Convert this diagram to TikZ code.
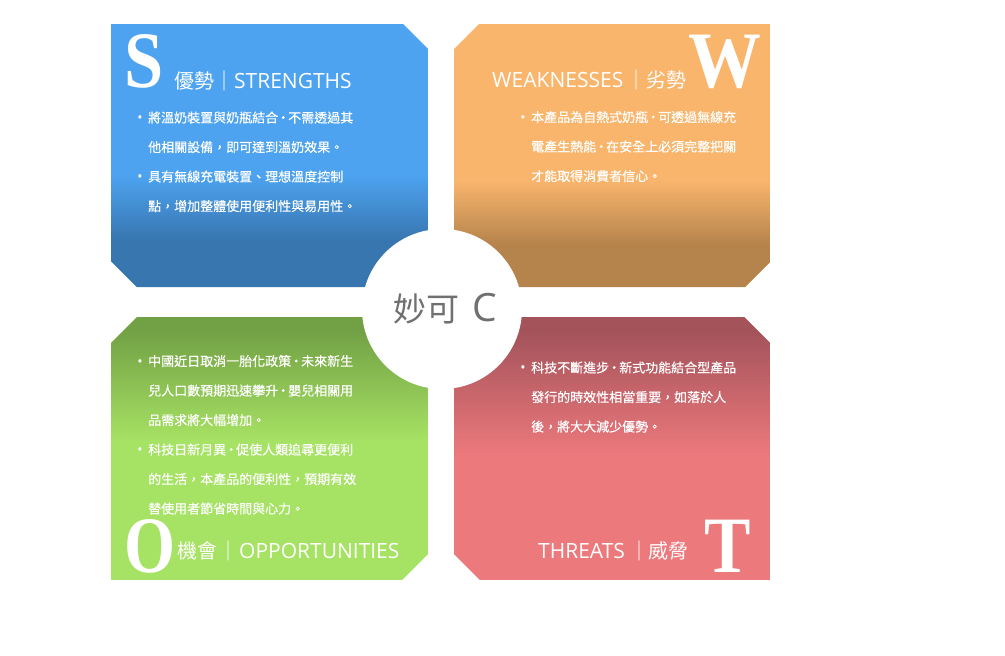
\documentclass[tikz,border=0pt]{standalone}
\usepackage{fontspec}
\usepackage{graphicx}
\newfontfamily\cjk{Noto Sans CJK TC}
\newfontfamily\cjkbody{Noto Sans CJK TC}[FakeBold=0.4]
\newfontfamily\lat{Open Sans}
\newfontfamily\bigserif{Liberation Serif}
\definecolor{Sl}{HTML}{4DA3F0}
\definecolor{Sd}{HTML}{3876B0}
\definecolor{Wl}{HTML}{F9B56C}
\definecolor{Wd}{HTML}{B5834C}
\definecolor{Od}{HTML}{72A045}
\definecolor{Ol}{HTML}{A6E263}
\definecolor{Td}{HTML}{A4535B}
\definecolor{Tl}{HTML}{EC797C}
\definecolor{ctext}{HTML}{707070}
\newcommand\mdot{\makebox[10pt]{·}}
\tikzset{
  body/.style={anchor=base west, inner sep=0, text=white, font=\cjkbody\fontsize{13}{13}\selectfont},
  bul/.style={anchor=base, inner sep=0, text=white, font=\lat\fontsize{14}{14}\selectfont},
  hcjk/.style={anchor=base west, inner sep=0, text=white, font=\cjk\fontsize{20}{20}\selectfont},
  hbar/.style={anchor=base, inner sep=0, text=white, font=\cjk\fontsize{20}{20}\selectfont},
  hlat/.style={anchor=base west, inner sep=0, text=white, font=\lat\fontsize{21}{21}\selectfont},
  bigl/.style={anchor=base west, inner sep=0, text=white, font=\bigserif\bfseries\fontsize{80}{80}\selectfont},
}
\begin{document}
\begin{tikzpicture}[x=1pt,y=-1pt]
\useasboundingbox (0,0) rectangle (1005,656);
% S box
\begin{scope}
\clip (111,24) -- (403,24) -- (428,49) -- (428,287) -- (137,287) -- (111,261) -- cycle;
\fill[Sl] (111,24) rectangle (428,287);
\shade[top color=Sl, bottom color=Sd] (111,175) rectangle (428,240);
\fill[Sd] (111,240) rectangle (428,288);
\end{scope}
% W box
\begin{scope}
\clip (479,24) -- (770,24) -- (770,262) -- (745,287) -- (454,287) -- (454,49) -- cycle;
\fill[Wl] (454,24) rectangle (770,287);
\shade[top color=Wl, bottom color=Wd] (454,180) rectangle (770,245);
\fill[Wd] (454,245) rectangle (770,288);
\end{scope}
% O box
\begin{scope}
\clip (137,317) -- (428,317) -- (428,554) -- (402,580) -- (111,580) -- (111,343) -- cycle;
\fill[Ol] (111,317) rectangle (428,580);
\fill[Od] (111,316) rectangle (428,330);
\shade[top color=Od, bottom color=Ol] (111,330) rectangle (428,440);
\end{scope}
% T box
\begin{scope}
\clip (454,317) -- (744,317) -- (770,343) -- (770,580) -- (480,580) -- (454,554) -- cycle;
\fill[Tl] (454,317) rectangle (770,580);
\fill[Td] (454,316) rectangle (770,332);
\shade[top color=Td, bottom color=Tl] (454,332) rectangle (770,455);
\end{scope}
% centre circle
\node[circle, fill=white, minimum size=160pt, inner sep=0] (c) at (442,309) {};
\node[inner sep=0, text=ctext] (ct) at (445,309) {{\cjk\fontsize{33}{33}\selectfont 妙可}\hspace{13pt}{\lat\fontsize{39}{39}\selectfont C}};

% S texts
\node[bigl] (sL) at (124,87) {\scalebox{0.88}[1]{S}};
\node[hcjk] (sC) at (174,88) {優勢};
\node[hbar] (sB) at (224,88) {｜};
\node[hlat] (sE) at (234,88) {STRENGTHS};
\node[bul] (s1b) at (140,122.5) {•};
\node[body] (s1) at (148,122.5) {將溫奶裝置與奶瓶結合\mdot 不需透過其};
\node[body] (s2) at (148,152) {他相關設備，即可達到溫奶效果。};
\node[bul] (s3b) at (140,181.5) {•};
\node[body] (s3) at (148,181.5) {具有無線充電裝置、理想溫度控制};
\node[body] (s4) at (148,211) {點，增加整體使用便利性與易用性。};

% W texts
\node[hlat] (wE) at (492,87) {WEAKNESSES};
\node[hbar] (wB) at (636,87) {｜};
\node[hcjk] (wC) at (646,87) {劣勢};
\node[bigl] (wL) at (688,87) {\scalebox{0.91}[1]{W}};
\node[bul] (w1b) at (523,122) {•};
\node[body] (w1) at (531,122) {本產品為自熱式奶瓶\mdot 可透過無線充};
\node[body] (w2) at (531,151.5) {電產生熱能\mdot 在安全上必須完整把關};
\node[body] (w3) at (531,181) {才能取得消費者信心。};

% O texts
\node[bul] (o1b) at (140,366) {•};
\node[body] (o1) at (148,366) {中國近日取消一胎化政策\mdot 未來新生};
\node[body] (o2) at (148,395.5) {兒人口數預期迅速攀升\mdot 嬰兒相關用};
\node[body] (o3) at (148,425) {品需求將大幅增加。};
\node[bul] (o4b) at (140,454.5) {•};
\node[body] (o4) at (148,454.5) {科技日新月異\mdot 促使人類追尋更便利};
\node[body] (o5) at (148,484) {的生活，本產品的便利性，預期有效};
\node[body] (o6) at (148,513.5) {替使用者節省時間與心力。};
\node[bigl] (oL) at (124,572) {\scalebox{0.82}[1]{O}};
\node[hcjk] (oC) at (177,558) {機會};
\node[hbar] (oB) at (228,558) {｜};
\node[hlat] (oE) at (239,558) {OPPORTUNITIES};

% T texts
\node[bul] (t1b) at (523,372.5) {•};
\node[body] (t1) at (531,372.5) {科技不斷進步\mdot 新式功能結合型產品};
\node[body] (t2) at (531,402) {發行的時效性相當重要，如落於人};
\node[body] (t3) at (531,431.5) {後，將大大減少優勢。};
\node[hlat] (tE) at (538,558) {THREATS};
\node[hbar] (tB) at (639,558) {｜};
\node[hcjk] (tC) at (648,558) {威脅};
\node[bigl] (tL) at (704,572) {\scalebox{0.87}[1]{T}};
\end{tikzpicture}
\end{document}
